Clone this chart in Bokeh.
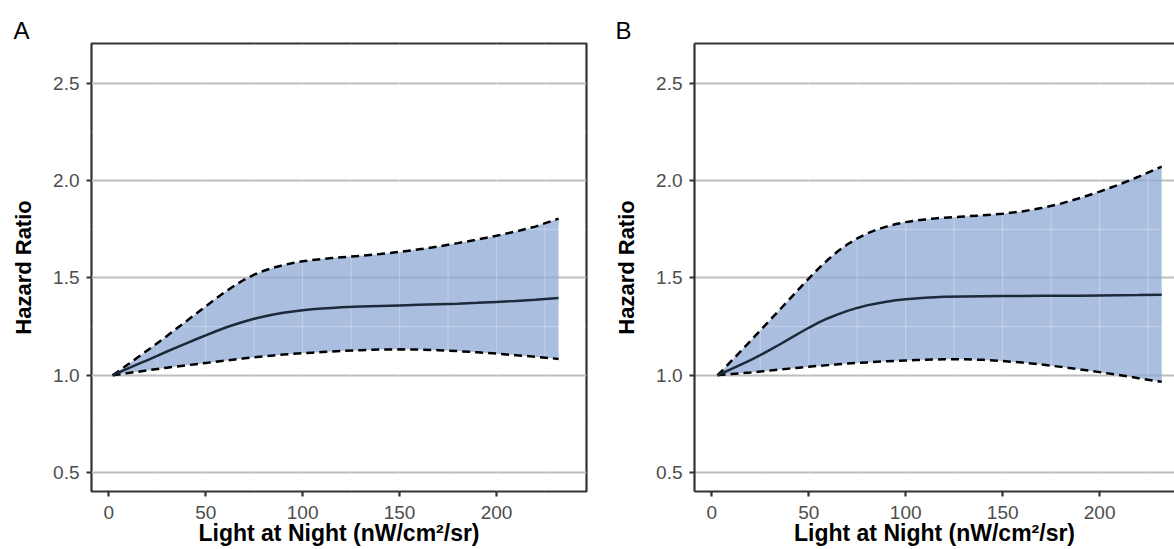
from bokeh.plotting import figure
from bokeh.layouts import row
from bokeh.models import Range1d, FixedTicker, LinearAxis
from bokeh.embed import file_html
from bokeh.resources import INLINE

# ---------------- data ----------------
x_a = [2, 5, 10, 15, 20, 25, 30, 35, 40, 45, 50, 55, 60, 65, 70, 75, 80, 85,
       90, 95, 100, 105, 110, 115, 120, 130, 140, 150, 160, 170, 180, 190,
       200, 210, 220, 232]
hr_a = [1.000, 1.013, 1.035, 1.057, 1.078, 1.100, 1.122, 1.143, 1.164, 1.185,
        1.205, 1.225, 1.244, 1.261, 1.276, 1.290, 1.302, 1.312, 1.321, 1.328,
        1.334, 1.339, 1.343, 1.346, 1.349, 1.353, 1.356, 1.359, 1.362, 1.365,
        1.368, 1.372, 1.377, 1.382, 1.388, 1.397]
lo_a = [1.000, 1.004, 1.011, 1.018, 1.025, 1.032, 1.039, 1.045, 1.051, 1.057,
        1.063, 1.069, 1.075, 1.081, 1.087, 1.092, 1.097, 1.102, 1.106, 1.110,
        1.113, 1.116, 1.119, 1.122, 1.125, 1.129, 1.132, 1.133, 1.132, 1.129,
        1.124, 1.118, 1.111, 1.103, 1.095, 1.084]
hi_a = [1.000, 1.020, 1.056, 1.092, 1.128, 1.165, 1.202, 1.240, 1.278, 1.316,
        1.354, 1.392, 1.428, 1.462, 1.492, 1.517, 1.537, 1.553, 1.566, 1.577,
        1.586, 1.592, 1.597, 1.602, 1.606, 1.614, 1.623, 1.634, 1.647, 1.662,
        1.679, 1.697, 1.717, 1.739, 1.764, 1.805]

x_b = [3, 5, 10, 15, 20, 25, 30, 35, 40, 45, 50, 55, 60, 65, 70, 75, 80, 85,
       90, 95, 100, 105, 110, 115, 120, 130, 140, 150, 160, 170, 180, 190,
       200, 210, 220, 232]
hr_b = [1.000, 1.009, 1.031, 1.054, 1.078, 1.103, 1.130, 1.158, 1.187, 1.216,
        1.244, 1.270, 1.293, 1.313, 1.331, 1.346, 1.359, 1.369, 1.378, 1.385,
        1.390, 1.394, 1.398, 1.401, 1.403, 1.405, 1.406, 1.407, 1.407, 1.408,
        1.408, 1.409, 1.410, 1.411, 1.412, 1.414]
lo_b = [1.000, 1.002, 1.006, 1.010, 1.014, 1.019, 1.024, 1.029, 1.034, 1.039,
        1.044, 1.048, 1.052, 1.056, 1.060, 1.063, 1.066, 1.069, 1.072, 1.074,
        1.076, 1.078, 1.080, 1.081, 1.082, 1.082, 1.079, 1.073, 1.065, 1.055,
        1.043, 1.030, 1.016, 1.001, 0.985, 0.966]
hi_b = [1.000, 1.020, 1.072, 1.124, 1.177, 1.230, 1.283, 1.336, 1.390, 1.444,
        1.497, 1.548, 1.595, 1.637, 1.673, 1.703, 1.728, 1.748, 1.764, 1.777,
        1.787, 1.795, 1.801, 1.806, 1.810, 1.816, 1.822, 1.830, 1.842, 1.859,
        1.882, 1.911, 1.944, 1.980, 2.020, 2.072]

x_ticks = [0, 50, 100, 150, 200]
y_ticks = [0.5, 1.0, 1.5, 2.0, 2.5]
y_tick_labels = ["0.5", "1.0", "1.5", "2.0", "2.5"]
minor_x = [25, 50, 75, 100, 125, 150, 175, 200, 225]
minor_y = [0.75, 1.25, 1.75, 2.25]
panel_labels = ["A", "B"]
x_title = "Light at Night (nW/cm\u00b2/sr)"
y_title = "Hazard Ratio"

# ---------------- styling ----------------
FONT = "Liberation Sans"
DARK = "#333333"
RIBBON = "#8ca8d5"
LINE = "#1c2a3a"
GRIDC = "#bdbdbd"
Y0, Y1 = 0.4025, 2.705
HEIGHT = 549
BT, BB = 43, 58


def make_panel(x, hr, lo, hi, label, width, bl, br, xs, xe, full_outline,
               letter_offset):
    p = figure(width=width, height=HEIGHT, output_backend="svg",
               toolbar_location=None,
               x_range=Range1d(xs, xe), y_range=Range1d(Y0, Y1),
               min_border_left=bl, min_border_right=br,
               min_border_top=BT, min_border_bottom=BB,
               background_fill_color="white", border_fill_color="white")

    # panel letter as the title
    p.title.text = label
    p.title.text_font = FONT
    p.title.text_font_size = "24px"
    p.title.text_font_style = "normal"
    p.title.text_color = "black"
    p.title.align = "left"
    p.title.offset = letter_offset
    p.title.standoff = 0

    # grids
    p.xgrid.visible = False
    p.ygrid.ticker = FixedTicker(ticks=y_ticks)
    p.ygrid.grid_line_color = GRIDC
    p.ygrid.grid_line_width = 2.2

    # ribbon
    p.varea(x=x, y1=lo, y2=hi, fill_color=RIBBON, fill_alpha=0.74)
    # faint white lines over the ribbon
    p.segment(x0=minor_x, x1=minor_x, y0=[Y0] * len(minor_x),
              y1=[Y1] * len(minor_x), line_color="white", line_alpha=0.3,
              line_width=1)
    p.segment(x0=[xs] * len(minor_y), x1=[xe] * len(minor_y), y0=minor_y,
              y1=minor_y, line_color="white", line_alpha=0.3, line_width=1)
    # bounds and estimate
    p.line(x, hi, line_color="black", line_width=2.5, line_dash="8 5")
    p.line(x, lo, line_color="black", line_width=2.5, line_dash="8 5")
    p.line(x, hr, line_color=LINE, line_width=2.5)

    # axes
    for ax in (p.xaxis[0], p.yaxis[0]):
        ax.major_tick_in = 0
        ax.major_tick_out = 5
        ax.minor_tick_in = 0
        ax.minor_tick_out = 0
        ax.major_tick_line_color = DARK
        ax.major_tick_line_width = 2.2
        ax.major_label_text_font = FONT
        ax.major_label_text_font_size = "19px"
        ax.major_label_text_color = "#4d4d4d"
        ax.axis_label_text_font = FONT
        ax.axis_label_text_font_style = "bold"
        ax.axis_label_text_color = "black"
    p.xaxis.axis_label_text_font_size = "23px"
    p.yaxis.axis_label_text_font_size = "22px"
    p.xaxis.ticker = FixedTicker(ticks=x_ticks)
    p.yaxis.ticker = FixedTicker(ticks=y_ticks)
    p.yaxis.major_label_overrides = dict(zip(y_ticks, y_tick_labels))
    p.xaxis.axis_label = x_title
    p.yaxis.axis_label = y_title
    p.xaxis.major_label_standoff = 9
    p.yaxis.major_label_standoff = 7
    p.xaxis.axis_label_standoff = -2
    p.yaxis.axis_label_standoff = 14

    if full_outline:
        p.outline_line_color = DARK
        p.outline_line_width = 2.2
        p.outline_line_alpha = 1
        p.xaxis.axis_line_color = None
        p.yaxis.axis_line_color = None
    else:
        p.outline_line_color = None
        p.xaxis.axis_line_color = DARK
        p.xaxis.axis_line_width = 2.2
        p.yaxis.axis_line_color = DARK
        p.yaxis.axis_line_width = 2.2
        top = LinearAxis(ticker=FixedTicker(ticks=[]),
                         major_label_text_font_size="0px",
                         major_tick_in=0, major_tick_out=0,
                         minor_tick_in=0, minor_tick_out=0,
                         major_label_standoff=0,
                         axis_line_color=DARK, axis_line_width=2.2)
        p.add_layout(top, "above")
    return p


pa = make_panel(x_a, hr_a, lo_a, hi_a, panel_labels[0], 605, 91, 19,
                -8.9, 246.4, True, -78)
pb = make_panel(x_b, hr_b, lo_b, hi_b, panel_labels[1], 569, 89, 0,
                -8.9, 238.6, False, -79)

layout = row(pa, pb, spacing=0)
open("out.html", "w").write(file_html(layout, INLINE))
